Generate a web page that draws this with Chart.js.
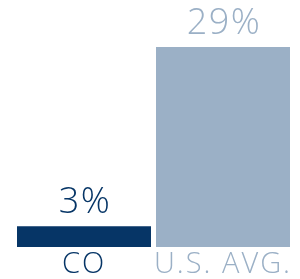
<!DOCTYPE html>
<html>
<head>
<meta charset="utf-8">
<script src="https://cdn.jsdelivr.net/npm/chart.js@4/dist/chart.umd.min.js"></script>
<style>
  html, body { margin: 0; padding: 0; background: #fff; }
</style>
</head>
<body>
<canvas id="chart" width="300" height="279"></canvas>
<script>
const categories = ["CO", "U.S. AVG."];
const values = [3, 29];
const valueLabels = ["3%", "29%"];
const barColors = ["#063566", "#9bb0c6"];

const FONT = "'Open Sans', sans-serif";

// wider tracking like the original artwork
const spacingPlugin = {
  id: "spacing",
  beforeDraw(chart) {
    chart.ctx.letterSpacing = "2px";
  },
};

// draws the percentage above each bar
const valueLabelPlugin = {
  id: "valueLabels",
  afterDatasetsDraw(chart) {
    const ctx = chart.ctx;
    const meta = chart.getDatasetMeta(0);
    ctx.save();
    ctx.font = "300 36px " + FONT;
    ctx.letterSpacing = "1.5px";
    ctx.textAlign = "center";
    ctx.textBaseline = "alphabetic";
    meta.data.forEach((bar, i) => {
      ctx.fillStyle = barColors[i];
      ctx.fillText(valueLabels[i], bar.x + 1, bar.y - 13);
    });
    ctx.restore();
  },
};

new Chart(document.getElementById("chart").getContext("2d"), {
  type: "bar",
  data: {
    labels: categories,
    datasets: [
      {
        data: values,
        backgroundColor: barColors,
        borderWidth: 0,
        categoryPercentage: 1,
        barPercentage: 0.964,
      },
    ],
  },
  options: {
    responsive: false,
    animation: false,
    layout: { padding: { top: 47, left: 14.5, right: 7.5, bottom: 0 } },
    plugins: {
      legend: { display: false },
      tooltip: { enabled: false },
    },
    scales: {
      x: {
        grid: { display: false },
        border: { display: false },
        afterFit(axis) { axis.height = 32; },
        ticks: {
          padding: -5,
          color: barColors,
          font: { family: FONT, size: 29, weight: 300, lineHeight: 1.0 },
        },
      },
      y: {
        display: false,
        min: 0,
        max: 29,
      },
    },
  },
  plugins: [spacingPlugin, valueLabelPlugin],
});
</script>
</body>
</html>
